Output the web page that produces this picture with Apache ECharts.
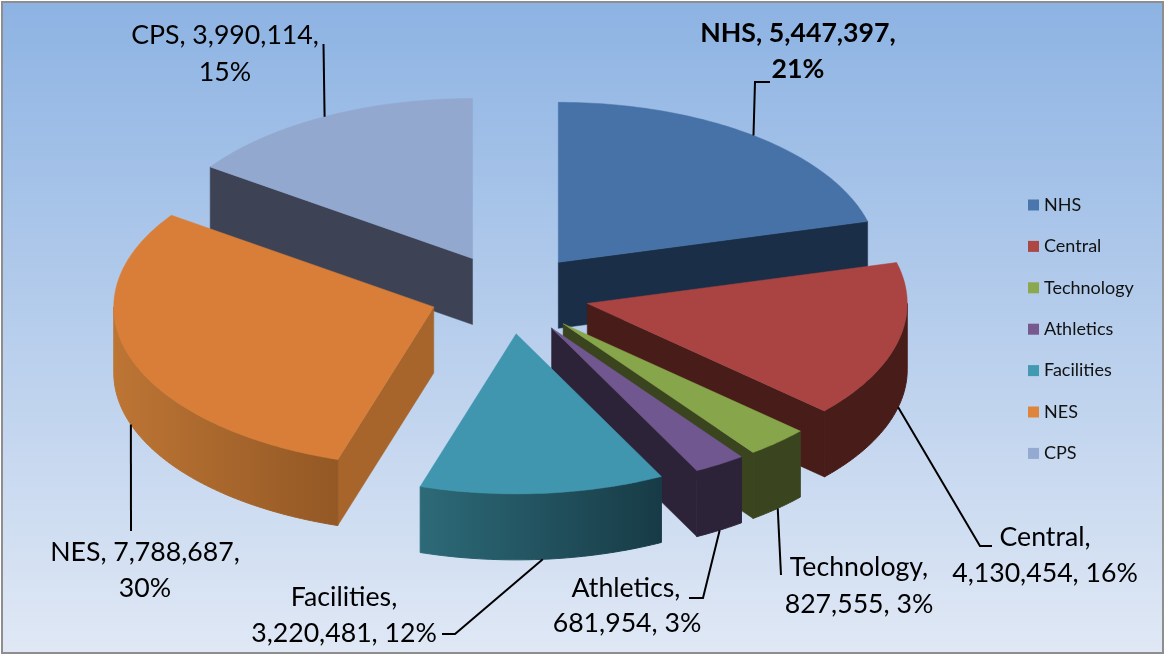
<!DOCTYPE html>
<html>
<head>
<meta charset="utf-8">
<style>
  html, body { margin: 0; padding: 0; background: #fff; }
  #main { width: 1165px; height: 655px; }
</style>
<script src="https://cdn.jsdelivr.net/npm/echarts@6/dist/echarts.min.js"></script>
</head>
<body>
<div id="main"></div>
<script>
const names = ['NHS', 'Central', 'Technology', 'Athletics', 'Facilities', 'NES', 'CPS'];
const budget = [5447397, 4130454, 827555, 681954, 3220481, 7788687, 3990114];

const topColors = ['#4672a8', '#a94442', '#87a54a', '#71578f', '#4096ae', '#d87e39', '#92a8cf'];
const faceColors = ['#1a2e47', '#481c18', '#3a441e', '#2d2339', '#2c6775', '#a7652c', '#3d4354'];
const wallColors = [
  ['#1a2e47', '#1a2e47'], ['#481c18', '#481c18'], ['#3a441e', '#3a441e'], ['#2d2339', '#2d2339'],
  ['#2d6a78', '#173b46'], ['#bd7534', '#935825'], ['#3d4354', '#3d4354']
];
const legendColors = ['#4a76ad', '#ad4745', '#8ba84f', '#75598f', '#419aaf', '#de843d', '#95aad0'];

// back to front
const drawOrder = ['CPS', 'NHS', 'Central', 'NES', 'Technology', 'Athletics', 'Facilities'];

// pie geometry (tilted disc, x and y radius)
const cx = 509.5, cy = 294, rx = 320, ry = 160, depth = 66, explode = 0.25;

// leader elbows and text lines per slice
const leaderEnds = [
  [[755, 82], [770, 82]],
  [[980, 546], [992, 546]],
  [[781, 575]],
  [[703, 598], [689, 598]],
  [[455, 634], [442, 634]],
  [[131, 531]],
  [[323.5, 44]]
];
const labelSpots = [
  [[798, 33], [798, 69]],
  [[1045, 537], [1045, 573]],
  [[859, 567], [859, 604]],
  [[626, 588], [627, 623]],
  [[344, 597], [344, 633]],
  [[145, 552], [145, 588]],
  [[225, 35], [225, 72]]
];
// true: "name, value,\npct"  false: "name,\nvalue, pct"
const nameValueFirst = [true, false, false, false, false, true, true];

const total = budget.reduce((a, b) => a + b, 0);
const D2R = Math.PI / 180;

function rim(c, a, down) {
  return [c[0] + rx * Math.sin(a * D2R), c[1] - ry * Math.cos(a * D2R) + (down || 0)];
}

function arc(c, from, to, down) {
  const pts = [];
  const n = Math.max(2, Math.ceil(Math.abs(to - from)));
  for (let i = 0; i <= n; i++) pts.push(rim(c, from + (to - from) * i / n, down));
  return pts;
}

function renderSlice(index, value) {
  let before = 0;
  for (let i = 0; i < index; i++) before += budget[i];
  const start = before / total * 360;
  const end = (before + value) / total * 360;
  const mid = (start + end) / 2;
  const c = [
    cx + explode * rx * Math.sin(mid * D2R),
    cy - explode * ry * Math.cos(mid * D2R)
  ];
  const children = [];
  const face = (a) => {
    const p = rim(c, a);
    children.push({
      type: 'polygon',
      shape: { points: [c, p, [p[0], p[1] + depth], [c[0], c[1] + depth]] },
      style: { fill: faceColors[index], stroke: faceColors[index], lineWidth: 0.5 }
    });
  };
  if (Math.sin(start * D2R) < -1e-6) face(start);
  if (Math.sin(end * D2R) > 1e-6) face(end);

  // outer wall only shows on the front half of the disc
  const wallFrom = Math.max(start, 90), wallTo = Math.min(end, 270);
  if (wallTo > wallFrom) {
    const w = wallColors[index];
    const wallFill = {
      type: 'linear', x: 0, y: 0, x2: 1, y2: 0,
      colorStops: [{ offset: 0, color: w[0] }, { offset: 1, color: w[1] }]
    };
    children.push({
      type: 'polygon',
      shape: { points: arc(c, wallFrom, wallTo, 0).concat(arc(c, wallTo, wallFrom, depth)) },
      style: { fill: wallFill, stroke: wallFill, lineWidth: 1 }
    });
  }
  children.push({
    type: 'polygon',
    shape: { points: [c].concat(arc(c, start, end, 0)) },
    style: { fill: topColors[index], stroke: topColors[index], lineWidth: 0.5 }
  });

  // leader line starts at the slice's rim, on the wall's lower edge when it faces us
  const anchor = rim(c, mid, Math.cos(mid * D2R) < 0 ? depth : 0);
  children.push({
    type: 'polyline',
    shape: { points: [anchor].concat(leaderEnds[index]) },
    style: { stroke: '#000', lineWidth: 2, fill: null }
  });

  const amount = value.toLocaleString('en-US');
  const pct = Math.round(value / total * 100) + '%';
  const lines = nameValueFirst[index]
    ? [names[index] + ', ' + amount + ',', pct]
    : [names[index] + ',', amount + ', ' + pct];
  lines.forEach((text, k) => {
    children.push({
      type: 'text',
      style: {
        text: text,
        x: labelSpots[index][k][0],
        y: labelSpots[index][k][1],
        align: 'center',
        verticalAlign: 'middle',
        fill: '#000',
        font: (index === 0 ? 'bold ' : '') + '26.7px Lato'
      }
    });
  });
  return { type: 'group', children: children };
}

const chart = echarts.init(document.getElementById('main'), null, { renderer: 'canvas' });
chart.setOption({
  animation: false,
  tooltip: { show: false },
  graphic: [{
    type: 'rect',
    z: -10,
    silent: true,
    shape: { x: 2, y: 2, width: 1161, height: 651 },
    style: {
      stroke: '#8e8e8e',
      lineWidth: 2,
      fill: {
        type: 'linear', x: 0, y: 0, x2: 0, y2: 1,
        colorStops: [{ offset: 0, color: '#8db3e3' }, { offset: 1, color: '#e0e8f5' }]
      }
    }
  }],
  legend: {
    orient: 'vertical',
    left: 1028,
    top: 196,
    padding: 0,
    itemWidth: 11,
    itemHeight: 11,
    itemGap: 23.4,
    icon: 'rect',
    selectedMode: false,
    data: names,
    textStyle: { fontFamily: 'Lato', fontSize: 18, lineHeight: 16, color: '#111', height: 16 }
  },
  series: names.map((name, i) => ({
    type: 'custom',
    name: name,
    coordinateSystem: 'none',
    silent: true,
    z: 2 + drawOrder.indexOf(name),
    itemStyle: { color: legendColors[i] },
    data: [[budget[i]]],
    renderItem: (params, api) => renderSlice(i, api.value(0))
  }))
});
</script>
</body>
</html>
